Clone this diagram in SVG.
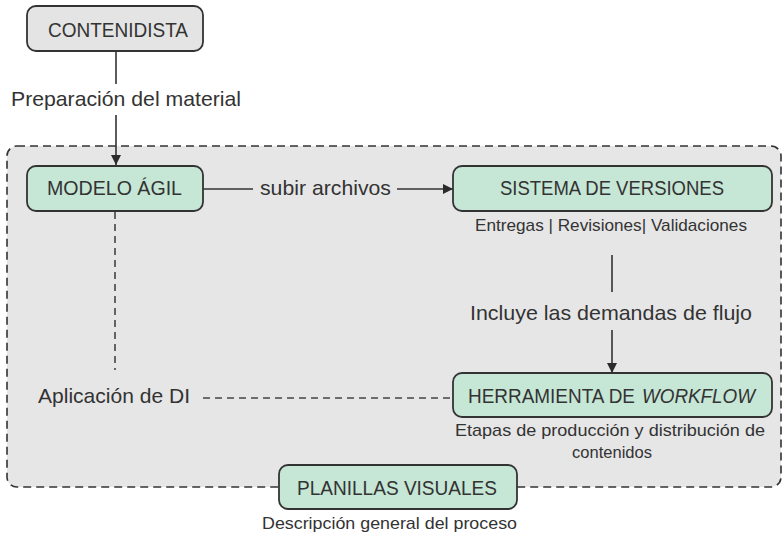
<svg xmlns="http://www.w3.org/2000/svg" width="783" height="536" viewBox="0 0 783 536">
<defs>
<marker id="arr" viewBox="0 0 10 10" refX="10" refY="5" markerWidth="10" markerHeight="10" markerUnits="userSpaceOnUse" orient="auto">
<path d="M0,0 L10,5 L0,10 z" fill="#2b2b2b"/>
</marker>
<style>
text{font-family:"Liberation Sans",Arial,sans-serif;fill:#333;}
.box{fill:#c6e6d6;stroke:#333;stroke-width:1.8;}
.grey{fill:#e4e4e4;stroke:#333;stroke-width:1.8;}
.lbl{font-size:20.5px;}
.big{font-size:21px;}
.sub{font-size:17px;}
.ln{stroke:#333;stroke-width:1.6;fill:none;}
.dash{stroke:#444;stroke-width:1.6;fill:none;stroke-dasharray:7 5;}
</style>
</defs>
<rect x="0" y="0" width="783" height="536" fill="#ffffff"/>
<g id="container">
<rect x="7" y="146" width="774" height="341" rx="10" fill="#e6e6e6" stroke="#333" stroke-width="1.6" stroke-dasharray="8 5"/>
</g>
<g id="connectors">
<line class="ln" x1="116" y1="51" x2="116" y2="84"/>
<text class="big" x="126" y="106" text-anchor="middle" textLength="230" lengthAdjust="spacingAndGlyphs">Preparación del material</text>
<line class="ln" x1="116" y1="115" x2="116" y2="165" marker-end="url(#arr)"/>
<line class="ln" x1="203" y1="189" x2="253" y2="189"/>
<text class="big" x="325.5" y="195" text-anchor="middle" textLength="131" lengthAdjust="spacingAndGlyphs">subir archivos</text>
<line class="ln" x1="397" y1="189" x2="453" y2="189" marker-end="url(#arr)"/>
<line class="ln" x1="612" y1="255" x2="612" y2="292"/>
<text class="big" x="611" y="320" text-anchor="middle" textLength="282" lengthAdjust="spacingAndGlyphs">Incluye las demandas de flujo</text>
<line class="ln" x1="612" y1="330" x2="612" y2="373" marker-end="url(#arr)"/>
<line class="dash" x1="115" y1="212" x2="115" y2="370"/>
<text class="big" x="114" y="403" text-anchor="middle" textLength="152" lengthAdjust="spacingAndGlyphs">Aplicación de DI</text>
<line class="dash" x1="203" y1="398" x2="453" y2="398"/>
</g>
<g id="contenidista">
<rect class="grey" x="27" y="6" width="176" height="45" rx="9"/>
<text class="lbl" x="118" y="37" text-anchor="middle" textLength="140" lengthAdjust="spacingAndGlyphs">CONTENIDISTA</text>
</g>
<g id="modelo-agil">
<rect class="box" x="27" y="166" width="176" height="45" rx="9"/>
<text class="lbl" x="114.5" y="195" text-anchor="middle" textLength="135" lengthAdjust="spacingAndGlyphs">MODELO ÁGIL</text>
</g>
<g id="sistema-versiones">
<rect class="box" x="453" y="166" width="319" height="45" rx="9"/>
<text class="lbl" x="612" y="195" text-anchor="middle" textLength="224" lengthAdjust="spacingAndGlyphs">SISTEMA DE VERSIONES</text>
<text class="sub" x="611" y="231" text-anchor="middle" textLength="272" lengthAdjust="spacingAndGlyphs">Entregas | Revisiones| Validaciones</text>
</g>
<g id="herramienta-workflow">
<rect class="box" x="453" y="373" width="319" height="44" rx="9"/>
<text class="lbl" x="468" y="403" textLength="167" lengthAdjust="spacingAndGlyphs">HERRAMIENTA DE</text>
<text class="lbl" x="642" y="403" font-style="italic" textLength="113" lengthAdjust="spacingAndGlyphs">WORKFLOW</text>
<text class="sub" x="610" y="436" text-anchor="middle" textLength="310" lengthAdjust="spacingAndGlyphs">Etapas de producción y distribución de</text>
<text class="sub" x="612" y="458" text-anchor="middle" textLength="80" lengthAdjust="spacingAndGlyphs">contenidos</text>
</g>
<g id="planillas-visuales">
<rect class="box" x="279" y="465" width="238" height="44" rx="9"/>
<text class="lbl" x="397" y="495" text-anchor="middle" textLength="200" lengthAdjust="spacingAndGlyphs">PLANILLAS VISUALES</text>
<text class="sub" x="389.5" y="529" text-anchor="middle" textLength="255" lengthAdjust="spacingAndGlyphs">Descripción general del proceso</text>
</g>
</svg>
